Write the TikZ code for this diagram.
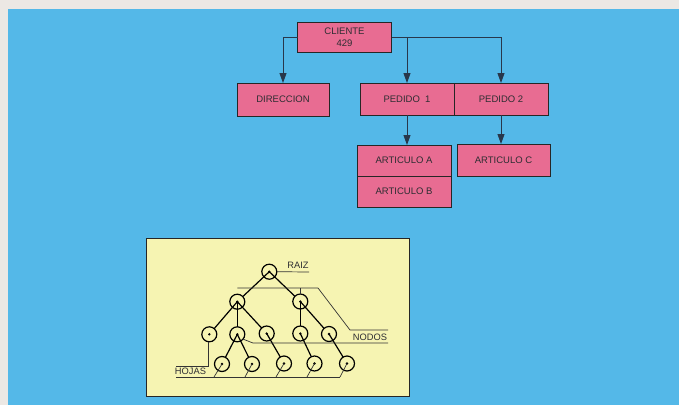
\documentclass[tikz,border=0pt]{standalone}
\usepackage{fontspec}
\setmainfont{Liberation Sans}
\usetikzlibrary{arrows.meta}
\definecolor{bluebg}{RGB}{84,184,232}
\definecolor{paper}{RGB}{236,232,228}
\definecolor{pinkbox}{RGB}{232,108,146}
\definecolor{yelbox}{RGB}{246,244,178}
\definecolor{arrowcol}{RGB}{40,55,75}
\definecolor{txt}{RGB}{45,45,50}
\begin{document}
\begin{tikzpicture}[x=1pt,y=-1pt,
  pbox/.style={draw=black!85, line width=1pt, fill=pinkbox, inner sep=0pt, outer sep=0pt,
    minimum width=94pt, minimum height=32pt, font=\fontsize{9.5}{12}\selectfont, text=txt, align=center},
  conn/.style={draw=arrowcol, line width=0.9pt, -{Triangle[length=10pt,width=7pt]}},
  tnode/.style={circle, draw=black, line width=1.2pt, minimum size=15pt, inner sep=0pt, outer sep=0pt},
  tedge/.style={draw=black, line width=1.2pt},
  lead/.style={draw=black!80, line width=0.7pt},
  tlabel/.style={font=\fontsize{9.3}{11}\selectfont, text=txt, inner sep=0pt}
]
\useasboundingbox (0,0) rectangle (679,405);
\fill[paper] (0,0) rectangle (679,405);
\fill[bluebg] (8,9) rectangle (679,405);

% pink boxes
\node[pbox, minimum height=30pt] (cl) at (344.5,37) {CLIENTE\\429};
\node[pbox, minimum width=92pt, minimum height=33pt] (dir) at (283,99.5) {DIRECCION};
\node[pbox] (p1) at (407,99) {PEDIDO~ 1};
\node[pbox] (p2) at (501,99) {PEDIDO 2};
\node[pbox, minimum height=31pt] (aa) at (404,160.5) {ARTICULO A};
\node[pbox, minimum height=31pt] (ab) at (404,191.5) {ARTICULO B};
\node[pbox, minimum width=93pt] (ac) at (503.5,160) {ARTICULO C};

% connectors
\draw[conn] (cl.west) -| (dir.north);
\draw[conn] (cl.east) -| (p2.north);
\draw[conn] (cl.east -| p1.north) -- (p1.north);
\draw[conn] (p1.south) -- (p1.south |- aa.north);
\draw[conn] (p2.south) -- (p2.south |- ac.north);

% yellow panel
\draw[fill=yelbox, draw=black!85, line width=1pt] (146,238) rectangle (409,396);

% tree nodes
\node[tnode] (r) at (269.3,271.7) {};
\node[tnode] (a) at (237.3,301.7) {};
\node[tnode] (b) at (300.3,301.5) {};
\node[tnode] (c1) at (209.3,334.3) {};
\node[tnode] (c2) at (237.3,334.3) {};
\node[tnode] (c3) at (266.7,333.5) {};
\node[tnode] (c4) at (300.3,333.5) {};
\node[tnode] (c5) at (329,334) {};
\node[tnode] (l1) at (222,364) {};
\node[tnode] (l2) at (252,364) {};
\node[tnode] (l3) at (284,363.5) {};
\node[tnode] (l4) at (314.5,363.5) {};
\node[tnode] (l5) at (347,363.5) {};
\foreach \n in {r,a,b,c1,c2,c3,c4,c5,l1,l2,l3,l4,l5} \fill (\n.center) circle (1.3pt);

% tree edges
\draw[tedge] (r.center) -- (a);
\draw[tedge] (r.center) -- (b);
\draw[tedge] (a.center) -- (c1);
\draw[tedge] (a.center) -- (c2);
\draw[tedge] (a.center) -- (c3);
\draw[tedge] (b.center) -- (c4);
\draw[tedge] (b.center) -- (c5);
\draw[tedge] (c2.center) -- (l1);
\draw[tedge] (c2.center) -- (l2);
\draw[tedge] (c3.center) -- (l3);
\draw[tedge] (c4.center) -- (l4);
\draw[tedge] (c5.center) -- (l5);

% labels
\node[tlabel, anchor=base] (raiz) at (298,268.5) {RAIZ};
\node[tlabel, anchor=base] (nodos) at (370,340.5) {NODOS};
\node[tlabel, anchor=base] (hojas) at (190.5,374.5) {HOJAS};

% leader lines
\coordinate (raizend) at (309,272);
\draw[lead] (r.east) -- (raizend);

\coordinate (n1) at (237.3,288);
\coordinate (n2) at (318,288);
\coordinate (n3) at (350,330);
\coordinate (n4) at (388,330);
\draw[lead] (n1) -- (n2) -- (n3) -- (n4);
\draw[lead] (b.north) -- (b.north |- n1);

\coordinate (m1) at (253,343);
\coordinate (m2) at (388,343);
\draw[lead] (c2.-40) -- (m1) -- (m2);

\coordinate (h1) at (176,366);
\draw[lead] (c1.-100) |- (h1);

\coordinate (g1) at (176,377);
\coordinate (g2) at (340,377);
\draw[lead] (g1) -- (g2);
\foreach \n/\x in {l1/214,l2/245,l3/276,l4/307,l5/340}
  \draw[lead] (\n.center) -- (\x,377);
\end{tikzpicture}
\end{document}
